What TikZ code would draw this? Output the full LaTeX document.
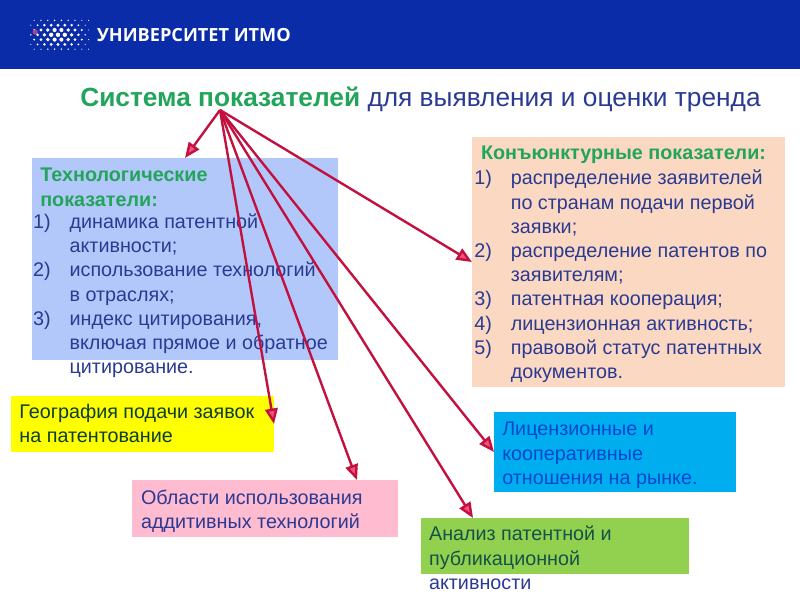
\documentclass[tikz,border=0pt]{standalone}
\usepackage{fontspec}
\setmainfont{Liberation Sans}
\newfontfamily\logofont{Open Sans}
\usetikzlibrary{arrows.meta, positioning, calc}
\definecolor{headerblue}{HTML}{0A2CA8}
\definecolor{titlegreen}{HTML}{22A55A}
\definecolor{bodynavy}{HTML}{2A3A92}
\definecolor{arrowred}{HTML}{C2103F}
\definecolor{arrowpink}{HTML}{F2507E}
\definecolor{techfill}{HTML}{B3C8FA}
\definecolor{conjfill}{HTML}{FBD8C2}
\definecolor{yellowfill}{HTML}{FFFF00}
\definecolor{pinkfill}{HTML}{FFBBD0}
\definecolor{bluefill}{HTML}{00AEEF}
\definecolor{greenfill}{HTML}{92D050}
\tikzset{
  panel/.style={anchor=north west, inner sep=0pt, outer sep=0pt},
  bodytext/.style={anchor=north west, inner sep=0pt, align=left, text=bodynavy,
    font=\fontsize{14.05}{17.2}\selectfont},
  headtext/.style={bodytext, text=titlegreen, font=\fontsize{14.05}{17.2}\selectfont\bfseries},
  pointer/.style={draw=arrowred, line width=1.7pt,
    -{Triangle[length=11pt, width=9pt, fill=arrowpink]}}
}
\newcommand{\numline}[2]{\makebox[26pt][l]{#1}#2}
\newcommand{\logodots}[2]{%
  \foreach \j in {-3,...,3} {
    \foreach \i in {-4,...,4} {
      \pgfmathsetmacro{\dx}{(\i+0.5*mod(abs(\j),2))*0.17}
      \pgfmathsetmacro{\dy}{\j*0.12}
      \pgfmathsetmacro{\rad}{max(0.014,0.056*(1-(\dx/0.85)^2)*(1-(\dy/0.46)^2))}
      \fill[white] (#1+\dx,#2+\dy) circle (\rad);
    }
  }%
}
\begin{document}
\begin{tikzpicture}
  \useasboundingbox (0,0) rectangle (20,15);
  % header band
  \fill[headerblue] (0,13.27) rectangle (20,15);
  \logodots{1.45}{14.13}
  \fill[arrowpink!70!headerblue] (0.88,14.2) circle (0.065);
  \node[anchor=west, inner sep=0pt, text=white, font=\fontsize{12.9}{15}\logofont\bfseries] (logotext) at (2.42,14.12) {УНИВЕРСИТЕТ ИТМО};

  % title
  \node[anchor=west, inner sep=0pt, text=bodynavy, font=\fontsize{18.7}{22}\selectfont] (title) at (2.0,12.52)
    {\textcolor{titlegreen}{\bfseries Система показателей} для выявления и оценки тренда};
  \coordinate (apex) at (5.5,12.25);

  % coloured panels
  \node[panel, fill=techfill, minimum width=7.65cm, minimum height=5.05cm] (techbox) at (0.8,11.05) {};
  \node[panel, fill=conjfill, minimum width=7.825cm, minimum height=6.25cm] (conjbox) at (11.8,11.575) {};
  \node[panel, fill=yellowfill, minimum width=6.575cm, minimum height=1.4cm] (geobox) at (0.275,5.1) {};
  \node[panel, fill=pinkfill, minimum width=6.65cm, minimum height=1.425cm] (addbox) at (3.3,3.0) {};
  \node[panel, fill=bluefill, minimum width=6.05cm, minimum height=2.0cm] (licbox) at (12.35,4.7) {};
  \node[panel, fill=greenfill, minimum width=6.7cm, minimum height=1.4cm] (pubbox) at (10.525,2.05) {};

  % left list
  \node[headtext] (techhead) at (1.0,10.8) {Технологические\\показатели:};
  \node[bodytext] (techlist) at (0.82,9.66) {%
    \numline{1)}{динамика патентной}\\
    \numline{}{активности;}\\
    \numline{2)}{использование технологий}\\
    \numline{}{в отраслях;}\\
    \numline{3)}{индекс цитирования,}\\
    \numline{}{включая прямое и обратное}\\
    \numline{}{цитирование.}};

  % right list
  \node[headtext] (conjhead) at (12.02,11.35) {Конъюнктурные показатели:};
  \node[bodytext] (conjlist) at (11.85,10.75) {%
    \numline{1)}{распределение заявителей}\\
    \numline{}{по странам подачи первой}\\
    \numline{}{заявки;}\\
    \numline{2)}{распределение патентов по}\\
    \numline{}{заявителям;}\\
    \numline{3)}{патентная кооперация;}\\
    \numline{4)}{лицензионная активность;}\\
    \numline{5)}{правовой статус патентных}\\
    \numline{}{документов.}};

  % small boxes
  \node[bodytext, text=black!75!green!70!bodynavy] (geotext) at (0.48,4.9) {География подачи заявок\\на патентование};
  \node[bodytext] (addtext) at (3.52,2.76) {Области использования\\аддитивных технологий};
  \node[bodytext, text=blue!65!cyan!80!black] (lictext) at (12.55,4.45) {Лицензионные и\\кооперативные\\отношения на рынке.};
  \node[bodytext, text=bodynavy!70!green!70!black] (pubtext) at (10.72,1.85) {Анализ патентной и\\публикационной\\\textcolor{bodynavy}{активности}};

  % pointers from the title
  \draw[pointer] (apex) -- (techbox.north);
  \draw[pointer] (apex) -- (conjbox.west);
  \draw[pointer] (apex) -- (geobox.east);
  \draw[pointer] (apex) -- ($(addbox.north west)+(5.625,0)$);
  \draw[pointer] (apex) -- ($(pubbox.north west)+(1.3,0)$);
  \draw[pointer] (apex) -- (licbox.west);
\end{tikzpicture}
\end{document}
